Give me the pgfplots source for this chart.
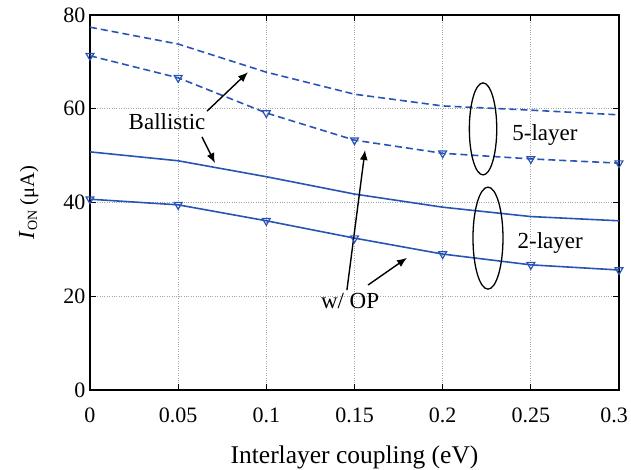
\documentclass[border=0pt]{standalone}
\usepackage{fontspec}
\setmainfont{Liberation Serif}
\usepackage{pgfplots}
\pgfplotsset{compat=1.18}
\usetikzlibrary{arrows.meta}
\definecolor{lblue}{RGB}{40,84,182}
\newcommand\bigf{\fontsize{23}{27}\selectfont}
\begin{document}
\begin{tikzpicture}[font=\bigf]
\begin{axis}[name=ax,
  scale only axis, width=529pt, height=375pt,
  xmin=0, xmax=0.3, ymin=0, ymax=80,
  xtick={0,0.05,0.1,0.15,0.2,0.25,0.3},
  xticklabels={0,0.05,0.1,0.15,0.2,0.25,0.3\hspace*{10pt}},
  ytick={0,20,40,60,80},
  yticklabels={0,20,40,60,80},
  tick align=inside, major tick length=6pt,
  axis line style={black, line width=1.4pt},
  tick style={black, line width=1.2pt},
  grid=major, grid style={gray!70, dotted, line width=0.8pt},
  every tick label/.append style={font=\fontsize{22}{26}\selectfont},
  xticklabel style={yshift=-14pt},
  yticklabel style={xshift=-1pt},
  xlabel={Interlayer coupling (eV)},
  ylabel={\textit{\fontsize{23}{27}\selectfont I}\raisebox{-0.3ex}{\fontsize{14}{16}\selectfont ON}\ (μA)},
  xlabel style={yshift=-16pt, font=\fontsize{25.5}{29}\selectfont},
  ylabel style={yshift=18pt, font=\fontsize{20.5}{24}\selectfont},
  clip=false,
]
% 5-layer ballistic
\addplot[lblue, line width=1.6pt, dash pattern=on 7pt off 4pt] coordinates {(0,77.4)(0.05,73.8)(0.1,67.8)(0.15,63.1)(0.2,60.6)(0.25,59.7)(0.3,58.7)};
% 5-layer w/ OP
\addplot[lblue, line width=1.6pt, dash pattern=on 7pt off 4pt, mark=triangle, mark size=4.5pt, mark options={solid, rotate=180, line width=1.2pt}] coordinates {(0,71.3)(0.05,66.6)(0.1,59.1)(0.15,53.3)(0.2,50.5)(0.25,49.3)(0.3,48.4)};
% 2-layer ballistic
\addplot[lblue, line width=1.6pt, solid, no marks] coordinates {(0,50.8)(0.05,48.9)(0.1,45.5)(0.15,41.8)(0.2,39.0)(0.25,37.0)(0.3,36.1)};
% 2-layer w/ OP
\addplot[lblue, line width=1.6pt, solid, mark=triangle, mark size=4.5pt, mark options={solid, rotate=180, line width=1.2pt}] coordinates {(0,40.7)(0.05,39.5)(0.1,36.1)(0.15,32.4)(0.2,29.0)(0.25,26.7)(0.3,25.6)};
% annotations
\node at (axis cs:0.0437,57.2) {Ballistic};
\draw[-{Latex[length=10pt,width=8pt]}, line width=1.4pt, black] (axis cs:0.0664,59.5) -- (axis cs:0.0896,67.8);
\draw[-{Latex[length=10pt,width=8pt]}, line width=1.4pt, black] (axis cs:0.0635,54.0) -- (axis cs:0.0709,48.4);
\node at (axis cs:0.1475,19.0) {w/ OP};
\draw[-{Latex[length=10pt,width=8pt]}, line width=1.4pt, black] (axis cs:0.1457,21.3) -- (axis cs:0.156,51.2);
\draw[-{Latex[length=10pt,width=8pt]}, line width=1.4pt, black] (axis cs:0.1577,22.4) -- (axis cs:0.1798,28.2);
\draw[black, line width=1.3pt] (axis cs:0.2229,55.7) ellipse [x radius=13.7pt, y radius=46pt];
\draw[black, line width=1.3pt] (axis cs:0.2257,32.4) ellipse [x radius=15pt, y radius=51pt];
\node at (axis cs:0.258,54.4) {5-layer};
\node at (axis cs:0.261,31.4) {2-layer};
\end{axis}
\pgfresetboundingbox
\path[use as bounding box] ([xshift=-90pt,yshift=-79pt]ax.south west) rectangle ([xshift=12pt,yshift=15pt]ax.north east);
\end{tikzpicture}
\end{document}
